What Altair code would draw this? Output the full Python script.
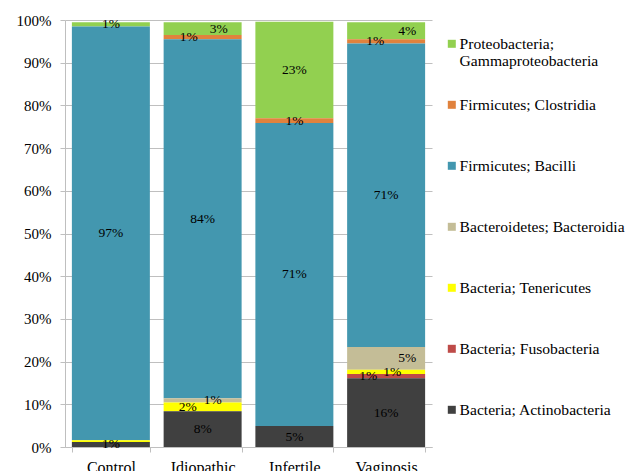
import altair as alt
import pandas as pd

# Sample groups (x axis) and taxa (legend order, top to bottom)
groups = ["Control", "Idiopathic", "Infertile", "Vaginosis"]
taxa = [
    "Proteobacteria; Gammaproteobacteria",
    "Firmicutes; Clostridia",
    "Firmicutes; Bacilli",
    "Bacteroidetes; Bacteroidia",
    "Bacteria; Tenericutes",
    "Bacteria; Fusobacteria",
    "Bacteria; Actinobacteria",
]
colors = ["#92D050", "#E0823D", "#4397AF", "#C4BD97", "#FFFF00", "#BE4B48", "#404040"]

# Relative abundance (%) in each group, in the same order as `taxa`
control = [1.0, 0.0, 96.9, 0.0, 0.4, 0.0, 1.2]
idiopathic = [3.0, 1.0, 84.1, 1.0, 2.0, 0.0, 8.4]
infertile = [22.6, 1.1, 71.0, 0.0, 0.0, 0.0, 4.9]
vaginosis = [4.0, 1.0, 71.1, 5.3, 1.0, 1.0, 16.1]

# Horizontal label shifts (px) for labels on thin segments
label_shift = {
    ("Idiopathic", "Bacteria; Tenericutes"): -15,
    ("Idiopathic", "Firmicutes; Clostridia"): -14,
    ("Idiopathic", "Bacteroidetes; Bacteroidia"): 10,
    ("Idiopathic", "Proteobacteria; Gammaproteobacteria"): 16,
    ("Vaginosis", "Firmicutes; Clostridia"): -11,
    ("Vaginosis", "Bacteria; Fusobacteria"): -18,
    ("Vaginosis", "Bacteria; Tenericutes"): 6,
    ("Vaginosis", "Bacteroidetes; Bacteroidia"): 21,
    ("Vaginosis", "Proteobacteria; Gammaproteobacteria"): 21,
}

rows = []
for g, vals in zip(groups, [control, idiopathic, infertile, vaginosis]):
    for i, (t, v) in enumerate(zip(taxa, vals)):
        rows.append({
            "group": g,
            "taxon": t,
            "value": v,
            "rank": len(taxa) - 1 - i,  # Actinobacteria sits at the bottom of the stack
            "shift": label_shift.get((g, t), 0),
        })
df = pd.DataFrame(rows)

FONT = "Liberation Serif"
GRID = "#BFBFBF"

base = (
    alt.Chart(df)
    .transform_filter("datum.value > 0")
    .transform_stack(
        stack="value",
        groupby=["group"],
        as_=["y0", "y1"],
        sort=[alt.SortField("rank", order="ascending")],
    )
)

x_enc = alt.X(
    "group:N",
    sort=groups,
    scale=alt.Scale(paddingInner=0.15, paddingOuter=0.075),
    axis=alt.Axis(
        title=None, labelAngle=0, tickBand="extent", tickSize=5, labelPadding=7,
        domainColor=GRID, tickColor=GRID, labelFont=FONT, labelFontSize=16,
        labelColor="#000000", grid=False,
    ),
)

bars = base.mark_bar().encode(
    x=x_enc,
    y=alt.Y(
        "y0:Q",
        scale=alt.Scale(domain=[0, 100], nice=False),
        axis=alt.Axis(
            title=None, values=list(range(0, 101, 10)), labelExpr="datum.value + '%'",
            grid=True, gridColor=GRID, domainColor=GRID, tickColor=GRID, tickSize=5,
            labelPadding=9, labelFont=FONT, labelFontSize=15, labelColor="#000000",
        ),
    ),
    y2="y1:Q",
    color=alt.Color(
        "taxon:N",
        scale=alt.Scale(domain=taxa, range=colors),
        legend=alt.Legend(
            orient="none", legendX=379, legendY=16, title=None, padding=0,
            symbolType="square", symbolSize=64, symbolStrokeWidth=0,
            labelFont=FONT, labelFontSize=15.6, labelColor="#000000",
            labelOffset=0, labelLimit=300, rowPadding=27, gridAlign="all",
            labelExpr="datum.label == 'Proteobacteria; Gammaproteobacteria' ? ['Proteobacteria;', 'Gammaproteobacteria'] : datum.label",
        ),
    ),
)

label_base = base.transform_calculate(
    mid="(datum.y0 + datum.y1) / 2",
    txt="format(datum.value, '.0f') + '%'",
).transform_filter("round(datum.value) >= 1")

label_layers = []
for s in sorted(set(df["shift"])):
    label_layers.append(
        label_base.transform_filter(f"datum.shift == {s}")
        .mark_text(font=FONT, fontSize=13.5, color="#000000", dx=s)
        .encode(x=alt.X("group:N", sort=groups), y="mid:Q", text="txt:N")
    )

chart = (
    alt.layer(bars, *label_layers)
    .properties(
        width=367,
        height=427,
        autosize=alt.AutoSizeParams(type="none"),
        padding={"left": 65, "top": 20, "right": 196, "bottom": 30},
    )
    .configure_view(stroke=None)
)

chart.save("out.html", embed_options={"renderer": "svg", "actions": False})
